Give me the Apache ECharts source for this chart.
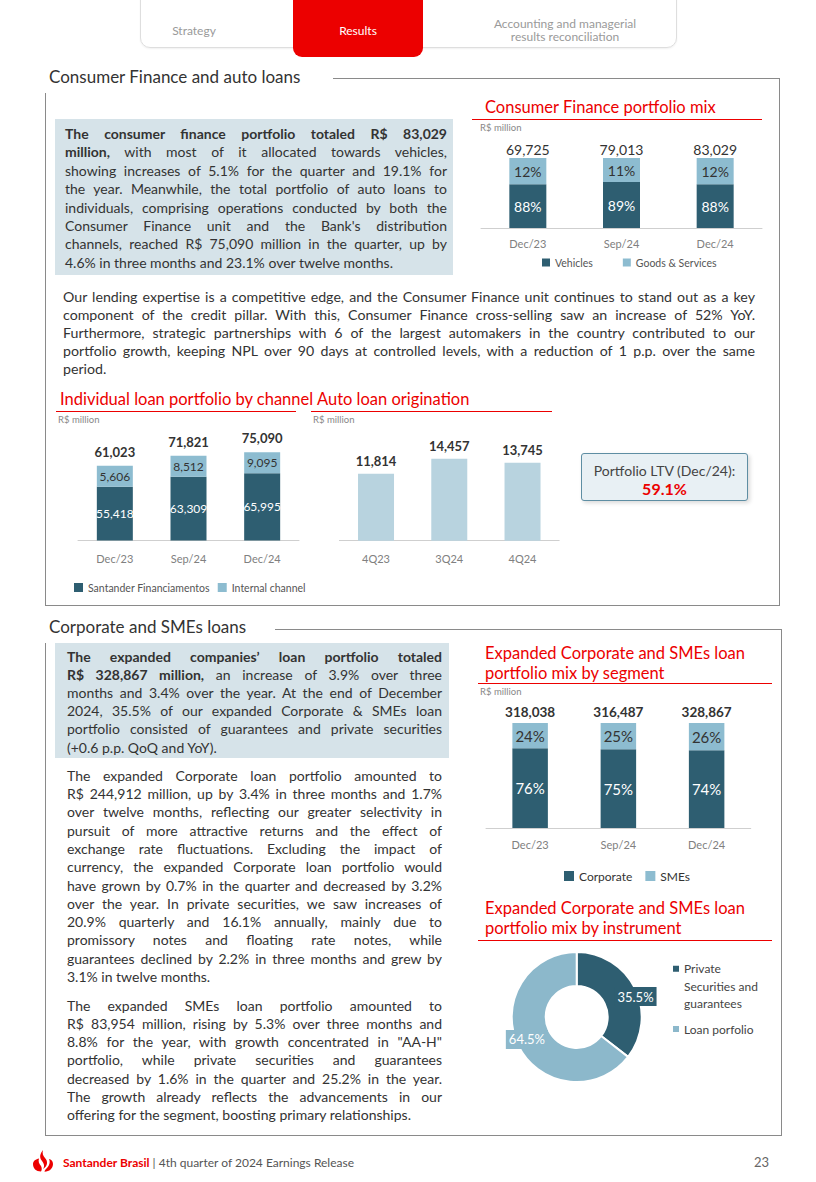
<!DOCTYPE html>
<html><head><meta charset="utf-8">
<script src="https://cdn.jsdelivr.net/npm/echarts@6/dist/echarts.min.js"></script>
<style>
html,body{margin:0;padding:0;background:#fff;}
#page{position:relative;width:816px;height:1182px;overflow:hidden;font-family:Lato,'Open Sans',sans-serif;color:#333;}
.abs{position:absolute;}
.sec{font-size:17px;color:#333;white-space:nowrap;line-height:20px;}
.rt{font-size:16.5px;color:#ec0000;white-space:nowrap;line-height:20px;}
.rl{height:1px;background:#ec0000;}
.unit{font-size:9.5px;color:#888;line-height:12px;white-space:nowrap;}
.gl{background:#8a8a8a;}
.txt div{text-align:justify;text-align-last:justify;white-space:normal;}
.txt div.l{text-align:left;text-align-last:left;}
.tab{font-size:12px;color:#9a9a9a;text-align:center;line-height:13px;}
</style></head><body><div id="page">

<!-- header tabs -->
<div class="abs" style="left:140px;top:-12px;width:535px;height:58px;border:1px solid #dedede;border-radius:0 0 10px 10px;box-shadow:0 1px 2px rgba(0,0,0,0.06);"></div>
<div class="abs" style="left:293px;top:-10px;width:130px;height:67px;background:#ec0000;border-radius:0 0 9px 9px;"></div>
<div class="abs tab" style="left:144px;top:24px;width:100px;">Strategy</div>
<div class="abs tab" style="left:293px;top:24px;width:130px;color:#fff;">Results</div>
<div class="abs tab" style="left:465px;top:17px;width:200px;">Accounting and managerial<br>results reconciliation</div>

<!-- section 1 frame -->
<div class="abs sec" style="left:49px;top:67px;">Consumer Finance and auto loans</div>
<div class="abs gl" style="left:333px;top:78px;width:447px;height:1px;"></div>
<div class="abs gl" style="left:779px;top:78px;width:1px;height:527px;"></div>
<div class="abs gl" style="left:45px;top:93px;width:1px;height:512px;"></div>
<div class="abs gl" style="left:45px;top:605px;width:735px;height:1px;"></div>

<!-- box 1 -->
<div class="abs" style="left:55px;top:119px;width:398px;height:156px;background:#d6e3e9;"></div>
<div class="abs txt" id="box1" style="left:65px;top:125px;width:382px;font-size:14px;line-height:18.4px;"></div>

<!-- CF chart title -->
<div class="abs rt" style="left:485px;top:97px;">Consumer Finance portfolio mix</div>
<div class="abs rl" style="left:472px;top:119px;width:290px;"></div>
<div class="abs unit" style="left:480px;top:122px;">R$ million</div>
<div class="abs" id="cf" style="left:470px;top:130px;width:300px;height:150px;"></div>

<!-- paragraph -->
<div class="abs txt" id="para1" style="left:63px;top:288px;width:692px;font-size:14.2px;line-height:18px;"></div>

<!-- channel chart -->
<div class="abs rt" style="left:60px;top:389px;">Individual loan portfolio by channel</div>
<div class="abs rl" style="left:56px;top:411px;width:240px;"></div>
<div class="abs unit" style="left:58px;top:414px;">R$ million</div>
<div class="abs" id="ch" style="left:50px;top:420px;width:300px;height:185px;"></div>

<!-- auto chart -->
<div class="abs rt" style="left:317px;top:389px;">Auto loan origination</div>
<div class="abs rl" style="left:311px;top:411px;width:241px;"></div>
<div class="abs unit" style="left:313px;top:414px;">R$ million</div>
<div class="abs" id="auto" style="left:310px;top:420px;width:260px;height:160px;"></div>

<!-- LTV box -->
<div class="abs" style="left:581px;top:453px;width:165px;height:46px;background:#e8f0f4;border:1px solid #5e8ea3;border-radius:3px;box-shadow:2px 2px 4px rgba(0,0,0,0.15);text-align:center;">
  <div style="font-size:14px;color:#444;line-height:17px;margin-top:8px;">Portfolio LTV (Dec/24):</div>
  <div style="font-size:16px;color:#ec0000;font-weight:bold;line-height:19px;">59.1%</div>
</div>

<!-- section 2 frame -->
<div class="abs sec" style="left:49px;top:617px;">Corporate and SMEs loans</div>
<div class="abs gl" style="left:275px;top:629px;width:506px;height:1px;"></div>
<div class="abs gl" style="left:781px;top:629px;width:1px;height:506px;"></div>
<div class="abs gl" style="left:45px;top:643px;width:1px;height:492px;"></div>
<div class="abs gl" style="left:45px;top:1135px;width:737px;height:1px;"></div>

<!-- box 2 -->
<div class="abs" style="left:55px;top:643px;width:394px;height:115px;background:#d6e3e9;"></div>
<div class="abs txt" id="box2" style="left:67px;top:647.6px;width:375px;font-size:14px;line-height:18.2px;"></div>
<div class="abs txt" id="para2" style="left:67px;top:766.8px;width:375px;font-size:14px;line-height:18.3px;"></div>
<div class="abs txt" id="para3" style="left:67px;top:996.5px;width:375px;font-size:14px;line-height:18.3px;"></div>

<!-- corporate segment chart -->
<div class="abs rt" style="left:485px;top:643px;">Expanded Corporate and SMEs loan<br>portfolio mix by segment</div>
<div class="abs rl" style="left:478px;top:683px;width:294px;"></div>
<div class="abs unit" style="left:480px;top:686px;">R$ million</div>
<div class="abs" id="corp" style="left:470px;top:695px;width:300px;height:195px;"></div>

<!-- instrument pie -->
<div class="abs rt" style="left:485px;top:898px;">Expanded Corporate and SMEs loan<br>portfolio mix by instrument</div>
<div class="abs rl" style="left:478px;top:940px;width:294px;"></div>
<div class="abs" id="pie" style="left:470px;top:945px;width:310px;height:150px;"></div>

<!-- footer -->
<svg class="abs" style="left:30px;top:1149px;" width="26" height="24" viewBox="0 0 26 24">
  <path d="M13 1 C10 5 9 8 12 12 C14 15 15 17 13 20 C18 17 18 12 15 9 C13 7 12 4 13 1 Z" fill="#ec0000"/>
  <path d="M3 15 C3 12 6 10 9 9.5 C8 12 9 15 11 17 C12 19 12 21 11 22.5 C6 22.5 3 19.5 3 15 Z" fill="#ec0000"/>
  <path d="M23 15 C23 12 21 10.5 19 10 C20.5 13 19.5 17 16 20 C15 21 14.5 22 14.5 22.8 C19.5 22.5 23 19.5 23 15 Z" fill="#ec0000"/>
</svg>
<div class="abs" style="left:63px;top:1155px;font-size:12px;line-height:16px;white-space:nowrap;color:#555;"><span style="color:#ec0000;font-weight:bold;">Santander Brasil</span> | 4th quarter of 2024 Earnings Release</div>
<div class="abs" style="left:754px;top:1154px;font-size:13px;line-height:16px;color:#666;">23</div>

</div>
<script>
// ---------- DATA ----------
const cfCategories = ['Dec/23', 'Sep/24', 'Dec/24'];
const cfVehiclesPct = [88, 89, 88];
const cfGoodsPct = [12, 11, 12];
const cfTotals = [69725, 79013, 83029];

const chCategories = ['Dec/23', 'Sep/24', 'Dec/24'];
const chSantanderFin = [55418, 63309, 65995];
const chInternal = [5606, 8512, 9095];
const chTotals = [61023, 71821, 75090];

const autoCategories = ['4Q23', '3Q24', '4Q24'];
const autoOrigination = [11814, 14457, 13745];

const corpCategories = ['Dec/23', 'Sep/24', 'Dec/24'];
const corpCorporatePct = [76, 75, 74];
const corpSmesPct = [24, 25, 26];
const corpTotals = [318038, 316487, 328867];

const instrNames = ['Private Securities and guarantees', 'Loan porfolio'];
const instrValues = [35.5, 64.5];

// ---------- TEXT ----------
const box1Lines = [
  '<b>The consumer finance portfolio totaled R$ 83,029</b>',
  '<b>million,</b> with most of it allocated towards vehicles,',
  'showing increases of 5.1% for the quarter and 19.1% for',
  'the year. Meanwhile, the total portfolio of auto loans to',
  'individuals, comprising operations conducted by both the',
  'Consumer Finance unit and the Bank\'s distribution',
  'channels, reached R$ 75,090 million in the quarter, up by',
  '4.6% in three months and 23.1% over twelve months.'
];
const para1Lines = [
  'Our lending expertise is a competitive edge, and the Consumer Finance unit continues to stand out as a key',
  'component of the credit pillar. With this, Consumer Finance cross-selling saw an increase of 52% YoY.',
  'Furthermore, strategic partnerships with 6 of the largest automakers in the country contributed to our',
  'portfolio growth, keeping NPL over 90 days at controlled levels, with a reduction of 1 p.p. over the same',
  'period.'
];
const box2Lines = [
  '<b>The expanded companies\u2019 loan portfolio totaled</b>',
  '<b>R$ 328,867 million,</b> an increase of 3.9% over three',
  'months and 3.4% over the year. At the end of December',
  '2024, 35.5% of our expanded Corporate &amp; SMEs loan',
  'portfolio consisted of guarantees and private securities',
  '(+0.6 p.p. QoQ and YoY).'
];
const para2Lines = [
  'The expanded Corporate loan portfolio amounted to',
  'R$ 244,912 million, up by 3.4% in three months and 1.7%',
  'over twelve months, reflecting our greater selectivity in',
  'pursuit of more attractive returns and the effect of',
  'exchange rate fluctuations. Excluding the impact of',
  'currency, the expanded Corporate loan portfolio would',
  'have grown by 0.7% in the quarter and decreased by 3.2%',
  'over the year. In private securities, we saw increases of',
  '20.9% quarterly and 16.1% annually, mainly due to',
  'promissory notes and floating rate notes, while',
  'guarantees declined by 2.2% in three months and grew by',
  '3.1% in twelve months.'
];
const para3Lines = [
  'The expanded SMEs loan portfolio amounted to',
  'R$ 83,954 million, rising by 5.3% over three months and',
  '8.8% for the year, with growth concentrated in "AA-H"',
  'portfolio, while private securities and guarantees',
  'decreased by 1.6% in the quarter and 25.2% in the year.',
  'The growth already reflects the advancements in our',
  'offering for the segment, boosting primary relationships.'
];
function fillLines(id, lines) {
  const el = document.getElementById(id);
  el.innerHTML = lines.map((t, i) => '<div' + (i === lines.length - 1 ? ' class="l"' : '') + '>' + t + '</div>').join('');
}
fillLines('box1', box1Lines);
fillLines('para1', para1Lines);
fillLines('box2', box2Lines);
fillLines('para2', para2Lines);
fillLines('para3', para3Lines);

// ---------- CHARTS ----------
const FONT = 'Lato, "Open Sans", sans-serif';
const DARK = '#2e5e71';
const LIGHT = '#8dbcd0';
const fmt = v => v.toLocaleString('en-US');
const catAxis = (data, margin) => ({
  type: 'category', data: data,
  axisLine: { lineStyle: { color: '#cfcfcf', width: 1 } },
  axisTick: { show: false },
  axisLabel: { color: '#808080', fontSize: 11, margin: margin, fontFamily: FONT }
});

// Consumer Finance mix
const cf = echarts.init(document.getElementById('cf'), null, { renderer: 'svg' });
cf.setOption({
  animation: false,
  textStyle: { fontFamily: FONT },
  grid: { left: 11, top: 28, width: 281, height: 70 },
  xAxis: catAxis(cfCategories, 10),
  yAxis: { type: 'value', min: 68, max: 100, show: false },
  legend: {
    data: ['Vehicles', 'Goods & Services'], left: 72, top: 127, icon: 'rect',
    itemWidth: 8, itemHeight: 8, itemGap: 30, padding: 0,
    textStyle: { fontSize: 10.5, color: '#555', fontFamily: FONT }
  },
  series: [
    { name: 'Vehicles', type: 'bar', stack: 'a', barWidth: 37, data: cfVehiclesPct,
      itemStyle: { color: DARK },
      label: { show: true, position: 'inside', color: '#fff', fontSize: 14, formatter: '{c}%', fontFamily: FONT } },
    { name: 'Goods & Services', type: 'bar', stack: 'a', data: cfGoodsPct,
      itemStyle: { color: LIGHT },
      label: { show: true, position: 'inside', color: '#333', fontSize: 14, formatter: '{c}%', fontFamily: FONT } },
    { name: 'Total', type: 'bar', stack: 'a', clip: false, data: cfTotals.map(() => 0),
      itemStyle: { color: 'transparent' },
      label: { show: true, position: 'top', distance: 2, color: '#333', fontSize: 14, fontFamily: FONT,
        formatter: p => fmt(cfTotals[p.dataIndex]) } }
  ]
});

// Individual loan portfolio by channel
const ch = echarts.init(document.getElementById('ch'), null, { renderer: 'svg' });
ch.setOption({
  animation: false,
  textStyle: { fontFamily: FONT },
  grid: { left: 28, top: 19, width: 221, height: 101.6 },
  xAxis: catAxis(chCategories, 12),
  yAxis: { type: 'value', min: 13000, max: 93000, show: false },
  legend: {
    data: ['Santander Financiamentos', 'Internal channel'], left: 24, top: 162, icon: 'rect',
    itemWidth: 9, itemHeight: 9, itemGap: 8, itemTextGap: 4, padding: 0,
    textStyle: { fontSize: 10.5, color: '#555', fontFamily: FONT }
  },
  series: [
    { name: 'Santander Financiamentos', type: 'bar', stack: 'a', barWidth: 36, data: chSantanderFin,
      itemStyle: { color: DARK },
      label: { show: true, position: 'inside', color: '#fff', fontSize: 12, fontFamily: FONT, formatter: p => fmt(p.value) } },
    { name: 'Internal channel', type: 'bar', stack: 'a', data: chInternal, barMinHeight: 21,
      itemStyle: { color: LIGHT },
      label: { show: true, position: 'insideBottom', distance: 0, fontFamily: FONT,
        formatter: p => '{t|' + fmt(chTotals[p.dataIndex]) + '}\n{v|' + fmt(p.value) + '}',
        rich: {
          t: { fontSize: 13, fontWeight: 'bold', color: '#333', lineHeight: 28, fontFamily: FONT },
          v: { fontSize: 12, color: '#333', lineHeight: 21, fontFamily: FONT }
        } } }
  ]
});

// Auto loan origination
const au = echarts.init(document.getElementById('auto'), null, { renderer: 'svg' });
au.setOption({
  animation: false,
  textStyle: { fontFamily: FONT },
  grid: { left: 29.4, top: 30, width: 219.75, height: 90.7 },
  xAxis: catAxis(autoCategories, 12),
  yAxis: { type: 'value', min: 0, max: 16000, show: false },
  series: [
    { name: 'Auto loan origination', type: 'bar', barWidth: 36, data: autoOrigination,
      itemStyle: { color: '#b8d3df' },
      label: { show: true, position: 'top', distance: 6, color: '#333', fontSize: 13, fontWeight: 'bold', fontFamily: FONT,
        formatter: p => fmt(p.value) } }
  ]
});

// Corporate & SMEs by segment
const co = echarts.init(document.getElementById('corp'), null, { renderer: 'svg' });
co.setOption({
  animation: false,
  textStyle: { fontFamily: FONT },
  grid: { left: 16, top: 28, width: 264.75, height: 105 },
  xAxis: catAxis(corpCategories, 11),
  yAxis: { type: 'value', min: 0, max: 100, show: false },
  legend: {
    data: ['Corporate', 'SMEs'], left: 94, top: 175, icon: 'rect',
    itemWidth: 10, itemHeight: 10, itemGap: 13, padding: 0,
    textStyle: { fontSize: 12, color: '#333', fontFamily: FONT }
  },
  series: [
    { name: 'Corporate', type: 'bar', stack: 'a', barWidth: 35.5, data: corpCorporatePct,
      itemStyle: { color: DARK },
      label: { show: true, position: 'inside', color: '#fff', fontSize: 15, formatter: '{c}%', fontFamily: FONT } },
    { name: 'SMEs', type: 'bar', stack: 'a', data: corpSmesPct,
      itemStyle: { color: LIGHT },
      label: { show: true, position: 'inside', color: '#333', fontSize: 15, formatter: '{c}%', fontFamily: FONT } },
    { name: 'Total', type: 'bar', stack: 'a', clip: false, data: corpTotals.map(() => 0),
      itemStyle: { color: 'transparent' },
      label: { show: true, position: 'top', distance: 4, color: '#333', fontSize: 13.5, fontWeight: 'bold', fontFamily: FONT,
        formatter: p => fmt(corpTotals[p.dataIndex]) } }
  ]
});

// Instrument pie
const pieColors = ['#2e5e71', '#8cb8cb'];
const legendNames = { 'Private Securities and guarantees': 'Private\nSecurities and\nguarantees', 'Loan porfolio': 'Loan porfolio' };
// legend markers: a small square at the height of the first text line
const iconTop = 'path://M0,0L6,0L6,6L0,6Z M0,41L6,41';
const iconMid = 'path://M0,0L6,0 M0,17.5L6,17.5L6,23.5L0,23.5Z M0,41L6,41';
const pi = echarts.init(document.getElementById('pie'), null, { renderer: 'svg' });
pi.setOption({
  animation: false,
  textStyle: { fontFamily: FONT },
  legend: {
    orient: 'vertical', left: 203, top: 15, itemWidth: 6, itemHeight: 41, itemGap: -4, padding: 0,
    itemStyle: { borderWidth: 0 },
    data: [
      { name: instrNames[0], icon: iconTop },
      { name: instrNames[1], icon: iconMid }
    ],
    formatter: n => legendNames[n],
    textStyle: { fontSize: 12, color: '#444', lineHeight: 17.5, fontFamily: FONT }
  },
  series: [{
    type: 'pie', center: [106.7, 72], radius: [31, 65], startAngle: 90, clockwise: true,
    itemStyle: { borderColor: '#fff', borderWidth: 2 },
    label: { show: true, position: 'inside', color: '#fff', fontSize: 13, padding: [3, 3], fontFamily: FONT,
      formatter: p => p.value.toFixed(1) + '%' },
    labelLine: { show: false },
    labelLayout: p => p.dataIndex === 0 ? { dx: 13, dy: 2 } : { dx: -4, dy: 0 },
    data: instrNames.map((n, i) => ({
      name: n, value: instrValues[i],
      itemStyle: { color: pieColors[i] },
      label: { backgroundColor: pieColors[i] }
    }))
  }]
});
</script>
</body></html>
